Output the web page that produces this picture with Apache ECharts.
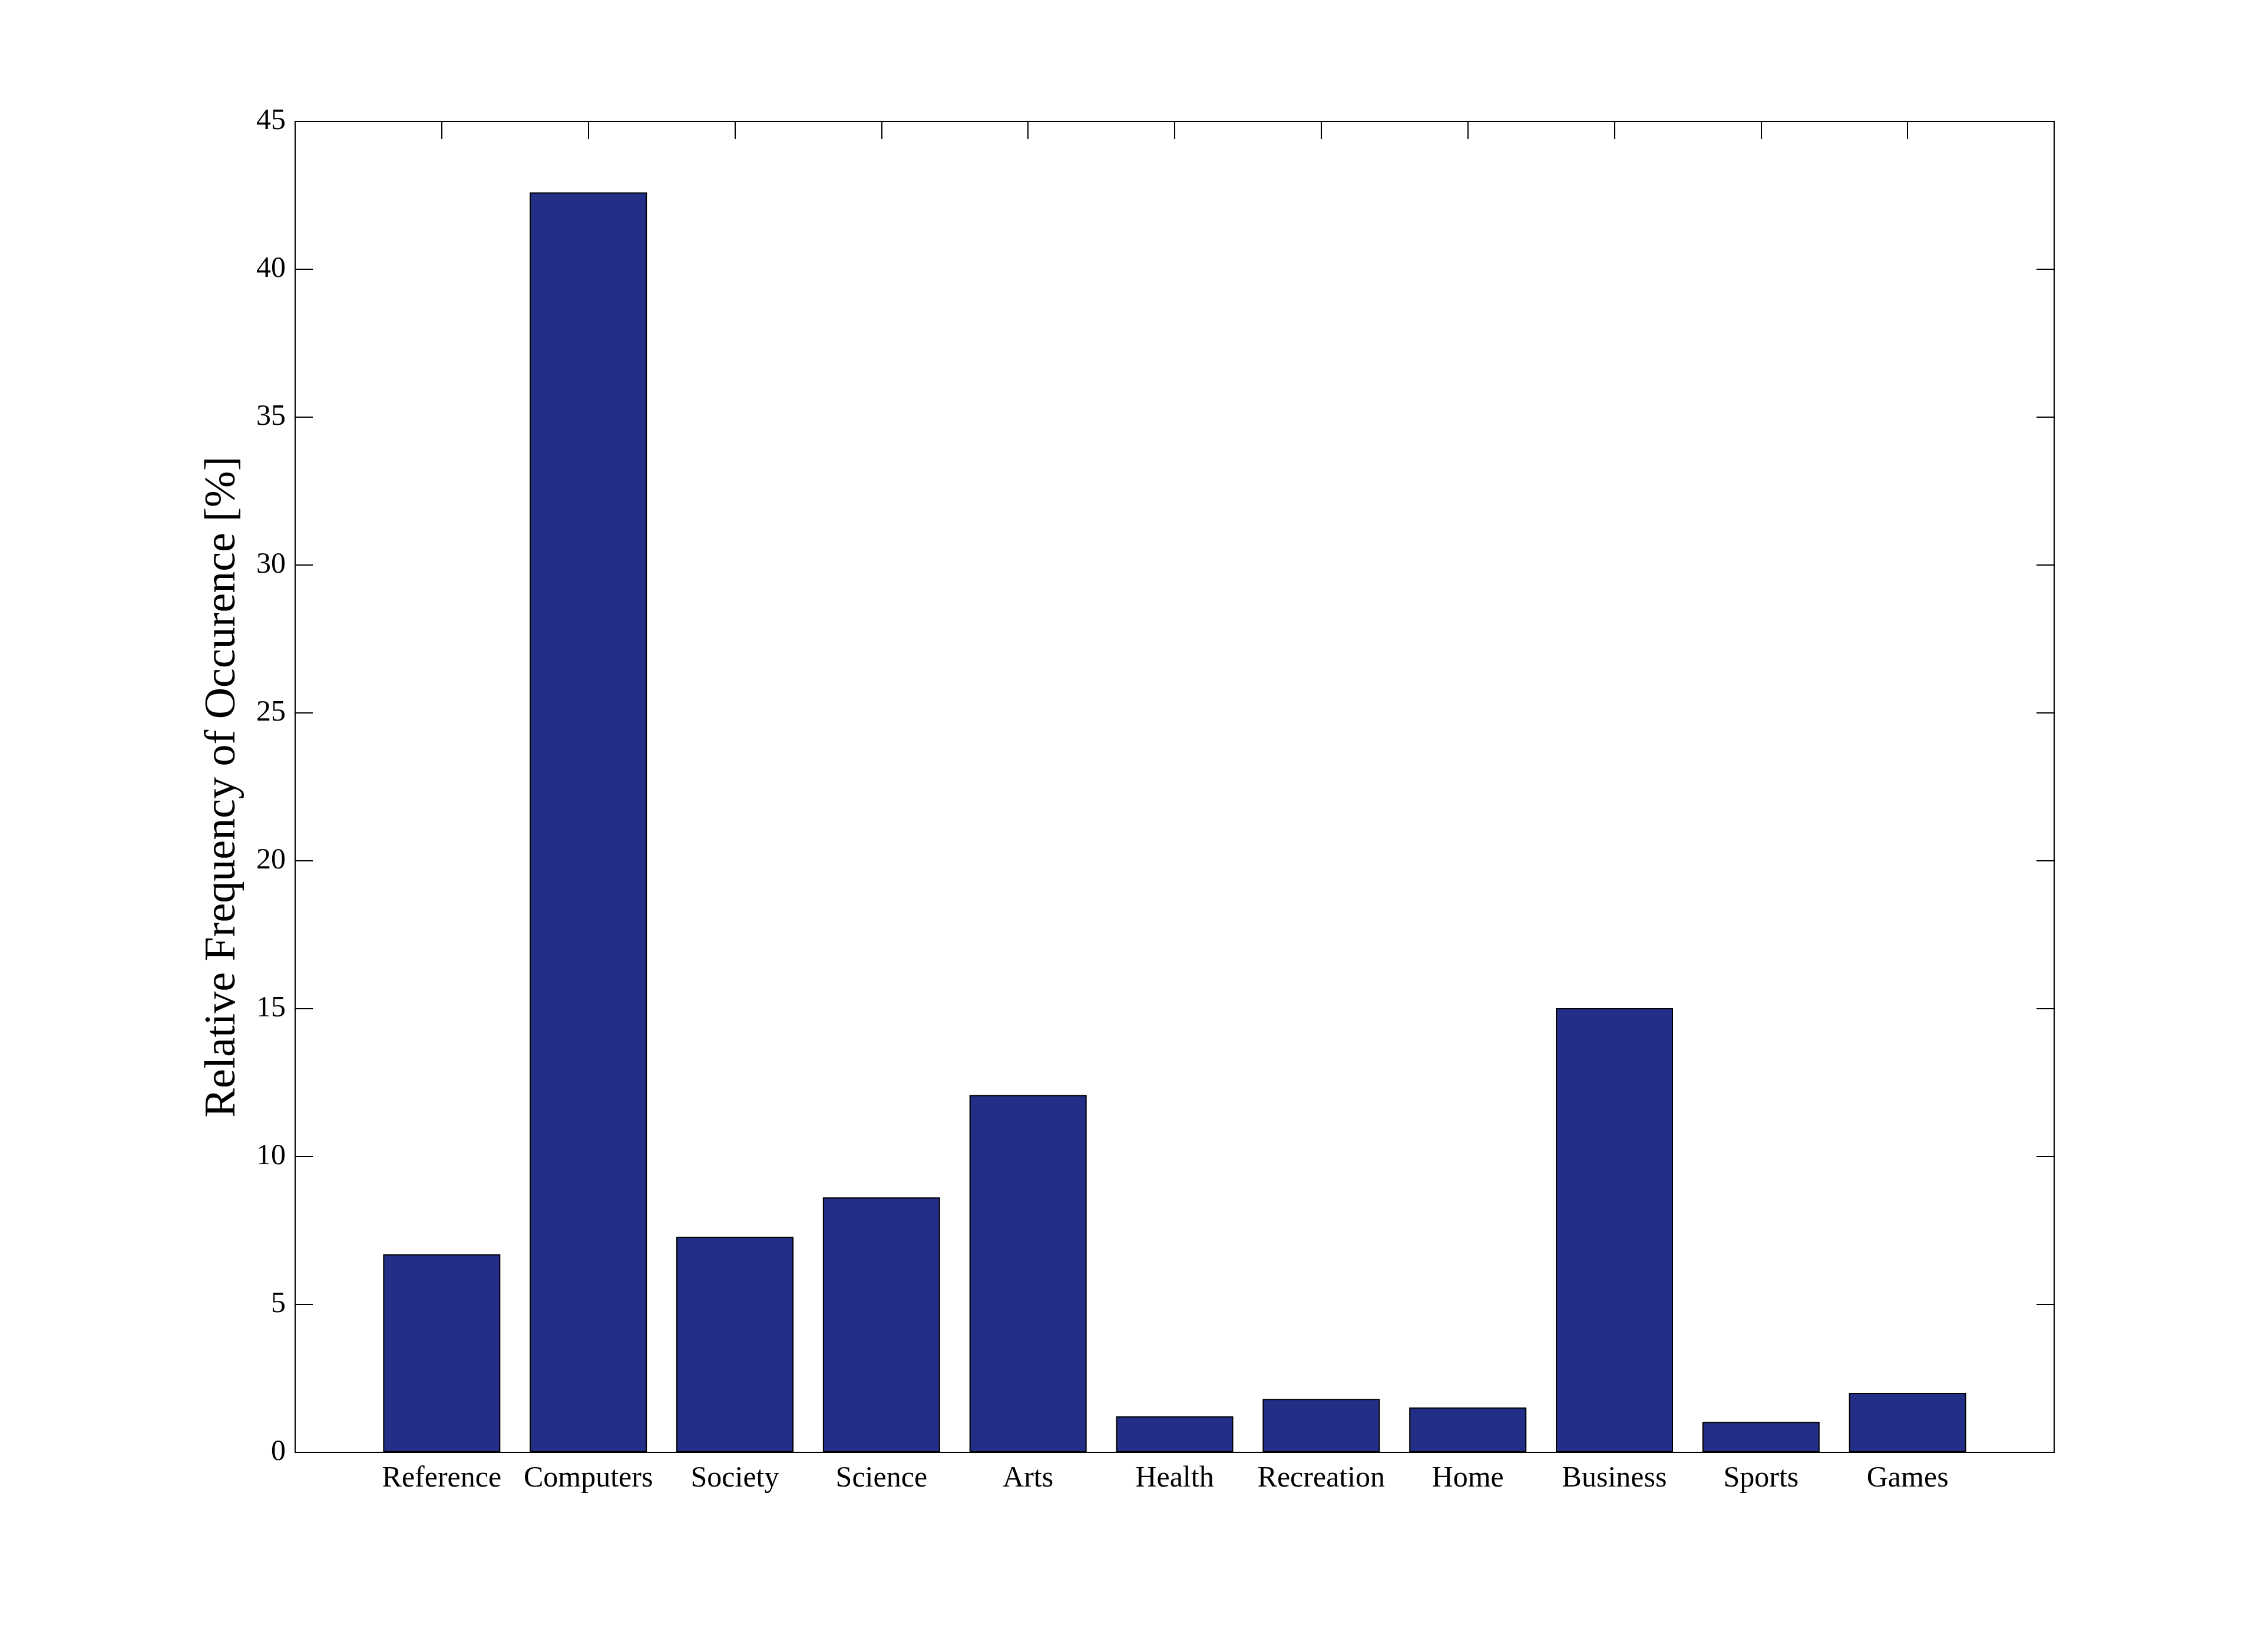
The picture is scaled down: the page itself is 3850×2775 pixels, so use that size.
<!DOCTYPE html>
<html>
<head>
<meta charset="utf-8">
<script src="https://cdn.jsdelivr.net/npm/echarts@6/dist/echarts.min.js"></script>
<style>html,body{margin:0;padding:0;background:#fff}#c{width:3850px;height:2775px}</style>
</head>
<body>
<div id="c"></div>
<script>
const categories = ['Reference','Computers','Society','Science','Arts','Health','Recreation','Home','Business','Sports','Games'];
const values = [6.70, 42.6, 7.29, 8.62, 12.08, 1.22, 1.81, 1.52, 15.02, 1.03, 2.01];
const yTicks = [0, 5, 10, 15, 20, 25, 30, 35, 40, 45];

const chart = echarts.init(document.getElementById('c'), null, {renderer: 'canvas'});
const font = 'Liberation Serif';
const data = categories.map((c, i) => [i + 1, values[i]]);

const lineStyle = {color: '#000', width: 2};
const tick = {show: true, inside: true, length: 30, lineStyle: {color: '#000', width: 2}};
chart.setOption({
  animation: false,
  backgroundColor: '#fff',
  grid: {left: 501, right: 363, top: 206, bottom: 310, containLabel: false},
  xAxis: [
    {
      type: 'value', min: 0, max: categories.length + 1, interval: 1, position: 'bottom',
      axisLine: {show: true, onZero: false, lineStyle},
      axisTick: tick,
      splitLine: {show: false},
      axisLabel: {
        margin: 20, color: '#000', fontFamily: font, fontSize: 50,
        formatter: v => (v >= 1 && v <= categories.length) ? categories[v - 1] : ''
      }
    },
    {
      type: 'value', min: 0, max: categories.length + 1, interval: 1, position: 'top',
      axisLine: {show: true, onZero: false, lineStyle},
      axisTick: tick,
      splitLine: {show: false},
      axisLabel: {show: false}
    }
  ],
  yAxis: [
    {
      type: 'value', min: yTicks[0], max: yTicks[yTicks.length - 1], interval: 5, position: 'left',
      name: 'Relative Frequency of Occurence [%]', nameLocation: 'middle', nameGap: 85,
      nameTextStyle: {color: '#000', fontFamily: font, fontSize: 74},
      axisLine: {show: true, onZero: false, lineStyle},
      axisTick: tick,
      splitLine: {show: false},
      axisLabel: {margin: 16, color: '#000', fontFamily: font, fontSize: 50}
    },
    {
      type: 'value', min: yTicks[0], max: yTicks[yTicks.length - 1], interval: 5, position: 'right',
      axisLine: {show: true, onZero: false, lineStyle},
      axisTick: tick,
      splitLine: {show: false},
      axisLabel: {show: false}
    }
  ],
  series: [{
    type: 'bar', xAxisIndex: 0, yAxisIndex: 0, data: data,
    barWidth: 199,
    itemStyle: {color: '#232F87', borderColor: '#000', borderWidth: 2}
  }]
});
</script>
</body>
</html>
